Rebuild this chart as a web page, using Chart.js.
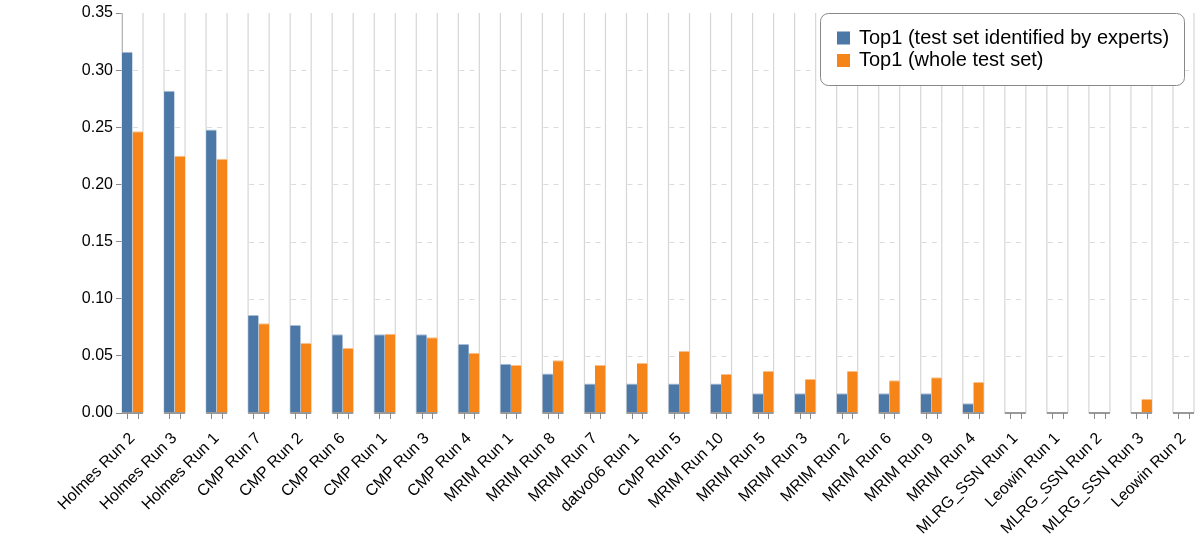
<!DOCTYPE html>
<html>
<head>
<meta charset="utf-8">
<script src="https://cdn.jsdelivr.net/npm/chart.js@4"></script>
<style>
  html, body { margin: 0; padding: 0; background: #fff; }
  #wrap { width: 1204px; height: 559px; }
</style>
</head>
<body>
<div id="wrap"><canvas id="myChart" width="1204" height="559"></canvas></div>
<script>
const categories = ['Holmes Run 2', 'Holmes Run 3', 'Holmes Run 1', 'CMP Run 7', 'CMP Run 2', 'CMP Run 6',
  'CMP Run 1', 'CMP Run 3', 'CMP Run 4', 'MRIM Run 1', 'MRIM Run 8', 'MRIM Run 7', 'datvo06 Run 1',
  'CMP Run 5', 'MRIM Run 10', 'MRIM Run 5', 'MRIM Run 3', 'MRIM Run 2', 'MRIM Run 6', 'MRIM Run 9',
  'MRIM Run 4', 'MLRG_SSN Run 1', 'Leowin Run 1', 'MLRG_SSN Run 2', 'MLRG_SSN Run 3', 'Leowin Run 2'];
const expertsTop1 = [0.316, 0.282, 0.248, 0.0858, 0.077, 0.0688, 0.0688, 0.0688, 0.0604, 0.0431,
  0.0345, 0.0259, 0.0259, 0.0259, 0.0259, 0.0172, 0.0172, 0.0172, 0.0172, 0.0172,
  0.0086, 0, 0, 0, 0, 0];
const wholeTop1 = [0.2465, 0.2252, 0.2225, 0.0785, 0.0613, 0.0569, 0.0693, 0.0662, 0.0528, 0.042,
  0.0461, 0.042, 0.0437, 0.0543, 0.0341, 0.0367, 0.0297, 0.0367, 0.0286, 0.0312,
  0.0271, 0, 0, 0, 0.0122, 0];
const seriesNames = ['Top1 (test set identified by experts)', 'Top1 (whole test set)'];
const yTicks = [0, 0.05, 0.10, 0.15, 0.20, 0.25, 0.30, 0.35];

const FONT = 'Liberation Sans, Arial, Helvetica, sans-serif';

// boxes, dashed grid, baseline pieces and the little ticks under each bar
const boxPlugin = {
  id: 'boxes',
  beforeDatasetsDraw(chart) {
    const ctx = chart.ctx;
    const y = chart.scales.y;
    const a = chart.getDatasetMeta(0).data;
    const b = chart.getDatasetMeta(1).data;
    const top = chart.chartArea.top;
    const base = y.getPixelForValue(0);
    ctx.save();
    a.forEach((bar, i) => {
      const l = bar.x - bar.width / 2;
      const r = b[i].x + b[i].width / 2;
      ctx.strokeStyle = '#dcdcdc';
      ctx.lineWidth = 1;
      ctx.setLineDash([5, 5]);
      y.ticks.forEach(t => {
        if (t.value <= 0 || t.value >= y.max - 1e-9) return;
        const py = Math.round(y.getPixelForValue(t.value)) + 0.5;
        ctx.beginPath();
        ctx.moveTo(l + 1, py);
        ctx.lineTo(r, py);
        ctx.stroke();
      });
      ctx.setLineDash([]);
      ctx.strokeStyle = '#d6d6d6';
      ctx.lineWidth = 1.2;
      ctx.beginPath();
      ctx.moveTo(l, top);
      ctx.lineTo(l, base);
      ctx.moveTo(r, top);
      ctx.lineTo(r, base);
      ctx.stroke();
    });
    ctx.restore();
  },
  afterDatasetsDraw(chart) {
    const ctx = chart.ctx;
    const y = chart.scales.y;
    const a = chart.getDatasetMeta(0).data;
    const b = chart.getDatasetMeta(1).data;
    const base = y.getPixelForValue(0);
    ctx.save();
    a.forEach((bar, i) => {
      const l = bar.x - bar.width / 2;
      const r = b[i].x + b[i].width / 2;
      ctx.strokeStyle = '#999';
      ctx.lineWidth = 2;
      ctx.beginPath();
      ctx.moveTo(l, base);
      ctx.lineTo(r, base);
      ctx.stroke();
      ctx.strokeStyle = '#888';
      ctx.lineWidth = 1;
      [bar.x, b[i].x].forEach(cx => {
        const px = Math.round(cx) + 0.5;
        ctx.beginPath();
        ctx.moveTo(px, base);
        ctx.lineTo(px, base + 6);
        ctx.stroke();
      });
    });
    ctx.restore();
  }
};

// legend in a rounded box at the top right
const legendBox = {
  id: 'legendBox',
  afterDraw(chart) {
    const ctx = chart.ctx;
    const area = chart.chartArea;
    const w = 364, h = 72;
    const x = area.right - 10 - w, yy = area.top;
    ctx.save();
    ctx.beginPath();
    ctx.roundRect(x + 0.5, yy + 0.5, w, h, 8);
    ctx.fillStyle = '#fff';
    ctx.fill();
    ctx.strokeStyle = '#888';
    ctx.lineWidth = 1;
    ctx.stroke();
    ctx.font = '20px ' + FONT;
    ctx.textBaseline = 'middle';
    chart.data.datasets.forEach((ds, i) => {
      const cy = yy + 25 + i * 22.5;
      ctx.fillStyle = ds.backgroundColor;
      ctx.fillRect(x + 17, cy - 6.5, 13, 13);
      ctx.fillStyle = '#000';
      ctx.fillText(ds.label, x + 39, cy);
    });
    ctx.restore();
  }
};

const ctx = document.getElementById('myChart').getContext('2d');
new Chart(ctx, {
  type: 'bar',
  data: {
    datasets: [{
      label: seriesNames[0],
      data: expertsTop1.map((v, i) => ({ x: i, y: v })),
      backgroundColor: '#4c78a8',
      borderColor: '#a9bed6',
      borderWidth: { top: 1, left: 0, right: 0, bottom: 0 },
      borderSkipped: false
    }, {
      label: seriesNames[1],
      data: wholeTop1.map((v, i) => ({ x: i, y: v })),
      backgroundColor: '#f58518',
      borderColor: '#fbc08a',
      borderWidth: { top: 1, left: 0, right: 0, bottom: 0 },
      borderSkipped: false
    }]
  },
  options: {
    responsive: false,
    animation: false,
    layout: { padding: { top: 13, right: 10, bottom: 0, left: 0 } },
    categoryPercentage: 0.5,
    barPercentage: 1,
    plugins: {
      legend: { display: false },
      tooltip: { enabled: false }
    },
    scales: {
      x: {
        type: 'linear',
        offset: false,
        min: -0.25,
        max: categories.length - 0.75,
        afterBuildTicks: s => { s.ticks = categories.map((c, i) => ({ value: i })); },
        afterFit: s => { s.height = 146; s.paddingLeft = 0; s.paddingRight = 0; },
        grid: { display: false, drawTicks: false },
        border: { display: false },
        ticks: {
          autoSkip: false,
          minRotation: 45,
          maxRotation: 45,
          padding: 16,
          color: '#000',
          font: { family: FONT, size: 16 },
          callback: v => categories[v]
        }
      },
      y: {
        min: 0,
        max: 0.35,
        afterBuildTicks: s => { s.ticks = yTicks.map(v => ({ value: v })); },
        afterFit: s => { s.width = 122; },
        grid: { drawOnChartArea: false, tickLength: 6, color: '#888' },
        border: { display: true, color: '#888', width: 1 },
        ticks: {
          padding: 3,
          color: '#000',
          font: { family: FONT, size: 16 },
          callback: v => v.toFixed(2)
        }
      }
    }
  },
  plugins: [boxPlugin, legendBox]
});
</script>
</body>
</html>
